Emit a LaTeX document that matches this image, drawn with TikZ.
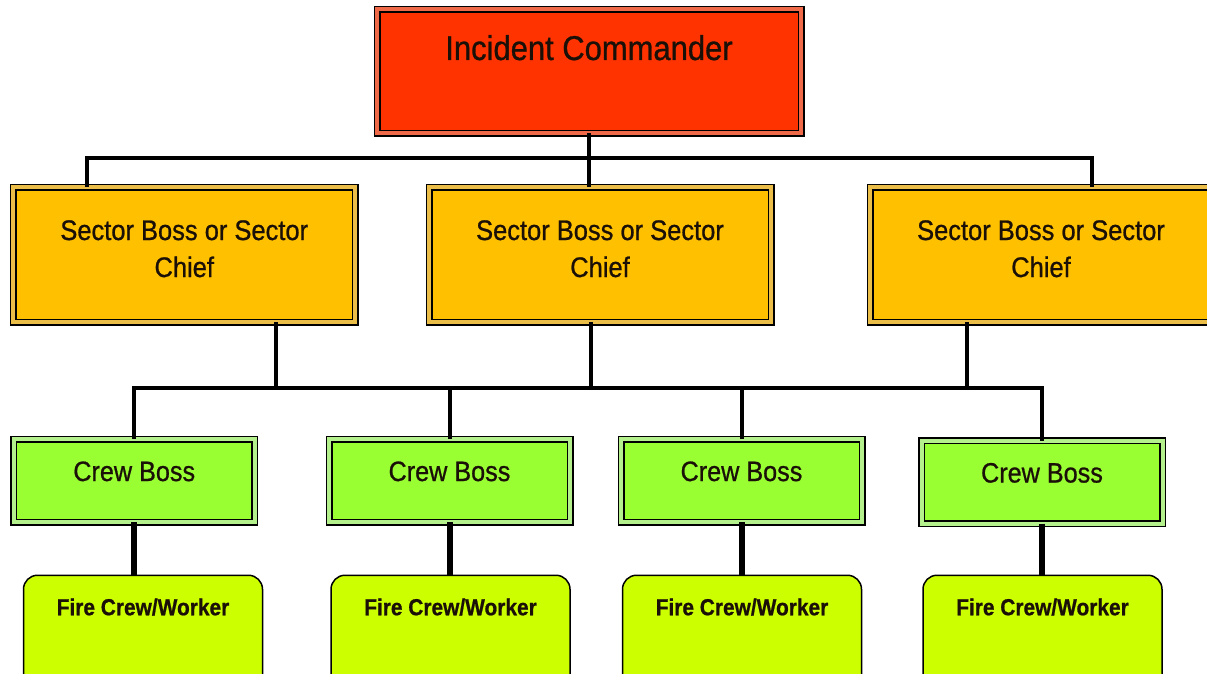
\documentclass[tikz,border=0pt]{standalone}
\usepackage{fontspec}
\setmainfont[FakeStretch=0.9, FakeBold=0.8, BoldFont={Liberation Sans Bold}, BoldFeatures={FakeStretch=0.9}]{Liberation Sans}
\definecolor{icfill}{HTML}{FF3300}
\definecolor{icgap}{HTML}{EE6A48}
\definecolor{sfill}{HTML}{FFC000}
\definecolor{sgap}{HTML}{EBBE4A}
\definecolor{cfill}{HTML}{99FF33}
\definecolor{cgap}{HTML}{B4F08C}
\definecolor{ffill}{HTML}{CCFF00}
\definecolor{ink}{HTML}{1A1008}
\tikzset{
  dbl/.style={draw=black, line width=1.5pt, double distance=4pt, inner sep=0pt, outer sep=0pt, text=ink},
  icbox/.style={dbl, double=icgap, fill=icfill, minimum width=424pt, text height=50.5pt, text depth=73.5pt, anchor=north,
    font=\fontsize{34.4}{40}\selectfont},
  sbox/.style={dbl, double=sgap, fill=sfill, minimum width=342pt, text height=53pt, text depth=82pt, anchor=north,
    font=\fontsize{28.3}{37}\selectfont},
  cbox/.style={dbl, double=cgap, fill=cfill, minimum width=241pt, text height=42pt, text depth=41pt, anchor=north,
    font=\fontsize{28}{32}\selectfont},
  fbox/.style={draw=black, line width=1.5pt, fill=ffill, rounded corners=14pt, minimum width=239pt, inner sep=0pt, text=ink,
    text height=40pt, text depth=86pt, anchor=north, font=\bfseries\fontsize{23.2}{28}\selectfont},
  conn/.style={draw=black, line width=4pt},
  thickconn/.style={draw=black, line width=6pt}
}
\newcommand{\twolines}[2]{\begin{tabular}[t]{@{}c@{}}#1\\#2\end{tabular}}
\begin{document}
\begin{tikzpicture}[x=1pt,y=-1pt]
\useasboundingbox (0,0) rectangle (1207,674);
\clip (0,0) rectangle (1207,674);
% connectors coordinates
\coordinate (b1l) at (87,158);
\coordinate (b1r) at (1092,158);
\coordinate (b2) at (0,388);
\coordinate (t1) at (276,388);
\coordinate (t2) at (591,388);
\coordinate (t3) at (967,388);
% nodes
\node[icbox] (ic) at (589,9.5) {Incident Commander};
\node[sbox] (s1) at (184.25,187) {\twolines{Sector Boss or Sector}{Chief}};
\node[sbox] (s2) at (600,187) {\twolines{Sector Boss or Sector}{Chief}};
\node[sbox] (s3) at (1041,187) {\twolines{Sector Boss or Sector}{Chief}};
\node[cbox] (c1) at (134.25,439) {Crew Boss};
\node[cbox] (c2) at (449.5,439) {Crew Boss};
\node[cbox] (c3) at (741.5,439) {Crew Boss};
\node[cbox] (c4) at (1042,440.5) {Crew Boss};
\node[fbox] (f1) at (143,574.5) {Fire Crew/Worker};
\node[fbox] (f2) at (450.5,574.5) {Fire Crew/Worker};
\node[fbox] (f3) at (742,574.5) {Fire Crew/Worker};
\node[fbox] (f4) at (1042.5,574.5) {Fire Crew/Worker};
% level 1 connectors
\draw[conn] (ic.south) -- (ic.south |- s2.north);
\draw[conn] (b1l |- s1.north) -- (b1l) -- (b1r) -- (b1r |- s3.north);
% level 2 connectors
\draw[conn] (t1 |- s1.south) -- (t1);
\draw[conn] (t2 |- s2.south) -- (t2);
\draw[conn] (t3 |- s3.south) -- (t3);
\draw[conn] (c1.north) -- (c1.north |- b2) -- (c4.north |- b2) -- (c4.north);
\draw[conn] (c2.north) -- (c2.north |- b2);
\draw[conn] (c3.north) -- (c3.north |- b2);
% level 3 connectors
\draw[thickconn] (c1.south) -- (c1.south |- f1.north);
\draw[thickconn] (c2.south) -- (c2.south |- f2.north);
\draw[thickconn] (c3.south) -- (c3.south |- f3.north);
\draw[thickconn] (c4.south) -- (c4.south |- f4.north);
\end{tikzpicture}
\end{document}
